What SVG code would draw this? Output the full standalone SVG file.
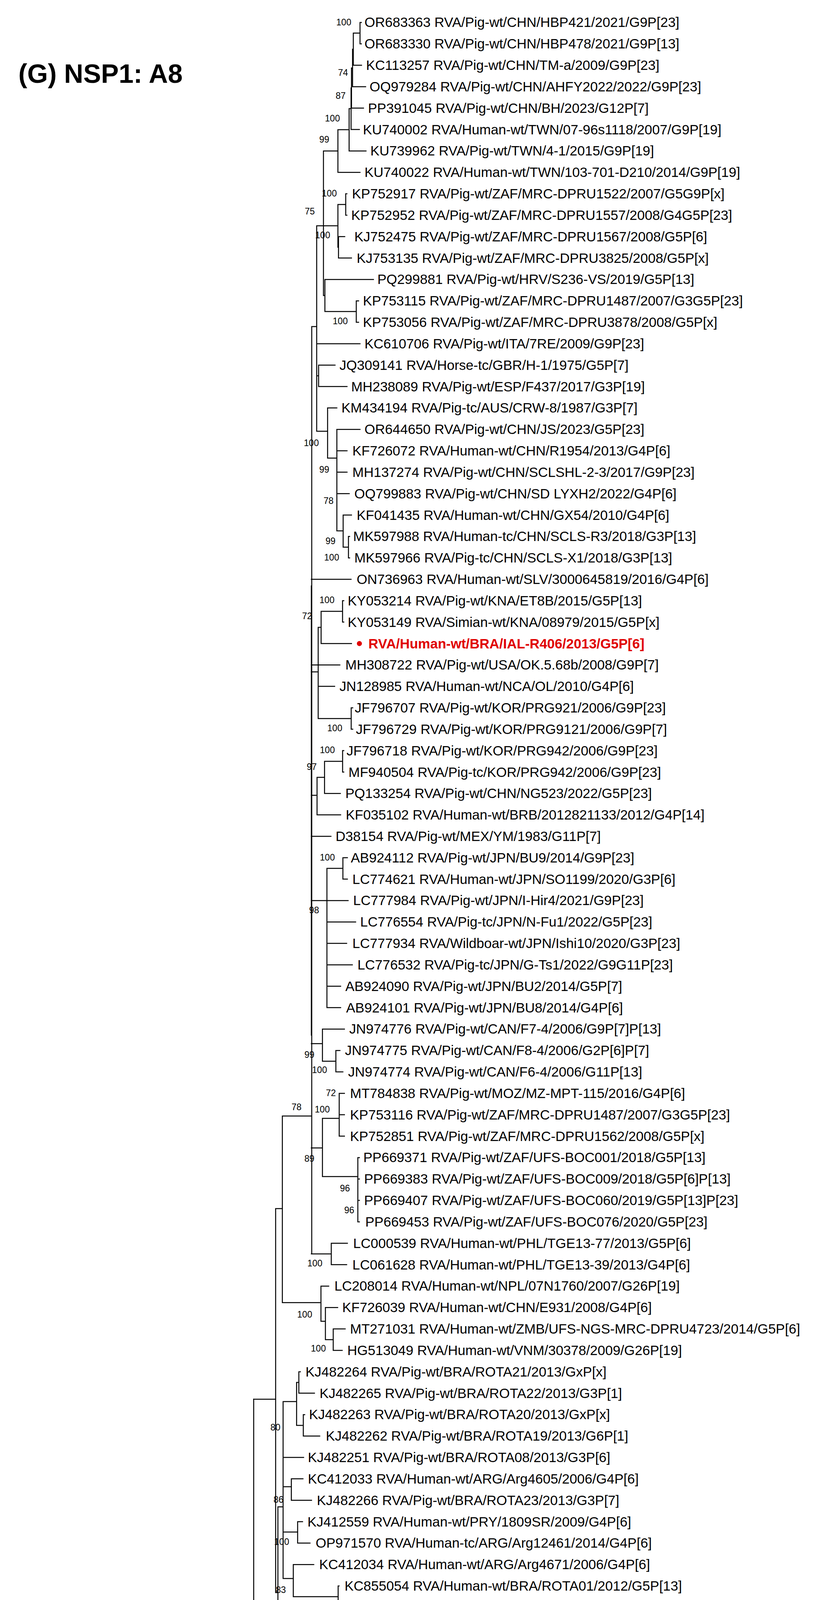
<svg xmlns="http://www.w3.org/2000/svg" width="2117" height="5613" viewBox="0 0 2117 5613">
<style>
.e{fill:none;stroke:#000;stroke-width:2.5;stroke-linecap:square}
.t{font-family:"Liberation Sans",Arial,sans-serif;font-size:35px;fill:#000}
.b{font-family:"Liberation Sans",Arial,sans-serif;font-size:23px;fill:#000;text-anchor:middle}
.r{font-family:"Liberation Sans",Arial,sans-serif;font-size:35px;font-weight:bold;fill:#e00000}
</style>
<rect width="2117" height="5613" fill="#fff"/>
<text x="47" y="212" font-family="Liberation Sans,Arial,sans-serif" font-size="68" font-weight="bold">(G) NSP1: A8</text>
<g id="connectors">
<path class="e" d="M921.6 57.4V112.2M921.6 57.4H925M921.6 112.2H925M904.4 84.8V167.1M904.4 84.8H921.6M904.4 167.1H925.5M902.5 126V221.9M902.5 126H904.4M902.5 221.9H936M899.8 174V276.7M899.8 174H902.5M899.8 276.7H930.5M898.7 225V331.6M898.7 225H899.8M898.7 331.6H920M893.7 278V386.4M893.7 278H898.7M893.7 386.4H937M865 332V441.2M865 332H893.7M865 441.2H921.6M828 386.6V756.5M828 386.6H865M885 496V550.9M885 496H888M885 550.9H888M865 523.4V633M865 523.4H885M865 633H866.5M866.5 605.7V660.5M866.5 605.7H882.5M866.5 660.5H899.8M810.7 578H865M831.7 715.4V797.6M828 756.5H831.7M831.7 715.4H956M831.7 797.6H912M912 770.2V825M912 770.2H918M912 825H918M810.7 578V1104M810.7 879.9H921.6M815.6 934.7V989.5M810.7 962H815.6M815.6 934.7H857.7M815.6 989.5H888.4M810.7 1104H838.6M838.6 1044.3V1172.7M838.6 1044.3H862.3M838.6 1172.7H862.3M862.3 1099.2V1359M862.3 1099.2H921.6M862.3 1154H888.4M862.3 1208.8H888.4M862.3 1263.7H894M862.3 1359H878.4M878.4 1318.5V1400.8M878.4 1318.5H899.8M878.4 1400.8H892M892 1373.3V1428.2M892 1373.3H895M892 1428.2H895"/>
<path class="e" d="M799 836H810.7M798 836V3210M797 1483H898.7M814.5 1606V1839.4M797 1720H814.5M814.5 1606H822M822 1565V1647.5M822 1565H876.9M822 1647.5H899.8M876.9 1537.8V1592.6M876.9 1537.8H880M876.9 1592.6H880M797 1702.3H870M814.5 1757.1H856.7M814.5 1839.4H899M899 1812V1866.8M899 1812H903M899 1866.8H903M797 2036H811.6M811.6 1990V2086.1M811.6 1990H830.8M811.6 2086.1H872M830.8 1949V2031.3M830.8 1949H877M830.8 2031.3H871.3M877 1921.6V1976.5M877 1921.6H880M877 1976.5H880M797 2140.9H847.2M797 2305.4H891.2M836.9 2223V2579.6M836.9 2223H877.8M877.8 2195.8V2250.6M877.8 2195.8H889.3M877.8 2250.6H889.3M836.9 2360.3H910.4M836.9 2415.1H887.4M836.9 2469.9H901.9M836.9 2524.8H872M836.9 2579.6H872M797 2671.8H825.4M825.4 2634.4V2716.7M825.4 2634.4H881.7M825.4 2716.7H859.8M859.8 2689.2V2744.1M859.8 2689.2H870.2M859.8 2744.1H877.8M797 2938.7H825.4M825.4 2863V3012M825.4 2863H868.3M868.3 2798.9V2908.6M868.3 2798.9H881.7M868.3 2853.7H881.7M868.3 2908.6H881.7M825.4 3012H916M916 2963.4V3127.9M916 2963.4H920M916 3018.2H920M916 3073.1H920M916 3127.9H920M797 3210H848M848 3182.7V3237.5M848 3182.7H889.3M848 3237.5H887.4"/>
<path class="e" stroke-width="5" d="M797 1500V2650"/>
<path class="e" d="M722.8 2857H797M722.8 2857V3334.8M722.8 3334.8H821.6M821.6 3292.4V3382.6M821.6 3292.4H841.5M821.6 3382.6H833M833 3347.2V3429.5M833 3347.2H864.4M833 3429.5H853M853 3402V3456.9M853 3402H883.6M853 3456.9H876M705.6 3094H722.8M705.6 3094V4077M649.4 3582H705.6M705.6 4077H711.4M711.4 3857.6V4296.7M711.4 3857.6H724.7M724.7 3588V4041M724.7 3588H759.2M759.2 3539V3649M759.2 3539H765M765 3511.7V3566.5M765 3511.7H768.8M765 3566.5H805M759.2 3649H776.4M776.4 3621.4V3676.2M776.4 3621.4H780M776.4 3676.2H818.5M724.7 3731H777.2M724.7 3806H745.8M745.8 3785.8V3840.7M745.8 3785.8H775.6M745.8 3840.7H797.5M724.7 3922H761.9M761.9 3895.5V3950.3M761.9 3895.5H774.5M761.9 3950.3H793.6M724.7 4041H750.8M750.8 4005.2V4087.4M750.8 4005.2H803.2M750.8 4087.4H865.6M865.6 4060V4114.8M865.6 4060H868M865.6 4114.8H868"/>
<path class="e" d="M711.4 4296.7H722M722 4169.7V4520M722 4169.7H814.7M722 4252H745.8M745.8 4224.5V4279.3M745.8 4224.5H757.3M745.8 4279.3H862.5M722 4334.1H774.5M722 4520H732.4M732.4 4416V4633.5M732.4 4416H780M780 4389V4443.8M780 4389H788M780 4443.8H795.5M732.4 4633.5H737.4M737.4 4526V4741M737.4 4526H745.8M745.8 4498.6V4553.5M745.8 4498.6H780M745.8 4553.5H836.9M737.4 4608.3H768M737.4 4741H743.9M743.9 4690.5V4800.2M743.9 4690.5H773.3M773.3 4663.1V4718M773.3 4663.1H786M773.3 4718H793.6M743.9 4800.2H757.3M757.3 4772.8V4827.6M757.3 4772.8H768.8M757.3 4827.6H791.7M649.4 3582V4910M649.4 4910H694M694 4882.4V4937.3M694 4882.4H777.2M694 4937.3H742M603.4 4245H649.4M603.4 4245V5094M603.4 5094H713M713 5019.5V5169M713 5019.5H745.2M745.2 4992.1V5046.9M745.2 4992.1H859M745.2 5046.9H873M713 5169H735.8M735.8 5101.8V5244M735.8 5101.8H846M735.8 5244H758.7M758.7 5184V5304M758.7 5184H793.8M793.8 5156.6V5211.4M793.8 5156.6H830M793.8 5211.4H877.5M758.7 5304H765.5M765.5 5266.3V5348.5M765.5 5266.3H816.8M765.5 5348.5H796.5M796.5 5321.1V5375.9M796.5 5321.1H823.6M796.5 5375.9H816.8M37.8 4667V5430.8M37.8 4667H603.4M37.8 5430.8H949"/>
</g>
<g id="leaves">
<g id="n0"><text class="t" x="933" y="69.4">OR683363 RVA/Pig-wt/CHN/HBP421/2021/G9P[23]</text></g>
<g id="n1"><text class="t" x="933" y="124.2">OR683330 RVA/Pig-wt/CHN/HBP478/2021/G9P[13]</text></g>
<g id="n2"><text class="t" x="937" y="179.1">KC113257 RVA/Pig-wt/CHN/TM-a/2009/G9P[23]</text></g>
<g id="n3"><text class="t" x="946" y="233.9">OQ979284 RVA/Pig-wt/CHN/AHFY2022/2022/G9P[23]</text></g>
<g id="n4"><text class="t" x="942" y="288.7">PP391045 RVA/Pig-wt/CHN/BH/2023/G12P[7]</text></g>
<g id="n5"><text class="t" x="929" y="343.6">KU740002 RVA/Human-wt/TWN/07-96s1118/2007/G9P[19]</text></g>
<g id="n6"><text class="t" x="948" y="398.4">KU739962 RVA/Pig-wt/TWN/4-1/2015/G9P[19]</text></g>
<g id="n7"><text class="t" x="933" y="453.2">KU740022 RVA/Human-wt/TWN/103-701-D210/2014/G9P[19]</text></g>
<g id="n8"><text class="t" x="901" y="508">KP752917 RVA/Pig-wt/ZAF/MRC-DPRU1522/2007/G5G9P[x]</text></g>
<g id="n9"><text class="t" x="899" y="562.9">KP752952 RVA/Pig-wt/ZAF/MRC-DPRU1557/2008/G4G5P[23]</text></g>
<g id="n10"><text class="t" x="907" y="617.7">KJ752475 RVA/Pig-wt/ZAF/MRC-DPRU1567/2008/G5P[6]</text></g>
<g id="n11"><text class="t" x="913" y="672.5">KJ753135 RVA/Pig-wt/ZAF/MRC-DPRU3825/2008/G5P[x]</text></g>
<g id="n12"><text class="t" x="966" y="727.4">PQ299881 RVA/Pig-wt/HRV/S236-VS/2019/G5P[13]</text></g>
<g id="n13"><text class="t" x="929" y="782.2">KP753115 RVA/Pig-wt/ZAF/MRC-DPRU1487/2007/G3G5P[23]</text></g>
<g id="n14"><text class="t" x="929" y="837">KP753056 RVA/Pig-wt/ZAF/MRC-DPRU3878/2008/G5P[x]</text></g>
<g id="n15"><text class="t" x="933" y="891.9">KC610706 RVA/Pig-wt/ITA/7RE/2009/G9P[23]</text></g>
<g id="n16"><text class="t" x="869" y="946.7">JQ309141 RVA/Horse-tc/GBR/H-1/1975/G5P[7]</text></g>
<g id="n17"><text class="t" x="899" y="1001.5">MH238089 RVA/Pig-wt/ESP/F437/2017/G3P[19]</text></g>
<g id="n18"><text class="t" x="874" y="1056.3">KM434194 RVA/Pig-tc/AUS/CRW-8/1987/G3P[7]</text></g>
<g id="n19"><text class="t" x="933" y="1111.2">OR644650 RVA/Pig-wt/CHN/JS/2023/G5P[23]</text></g>
<g id="n20"><text class="t" x="902" y="1166">KF726072 RVA/Human-wt/CHN/R1954/2013/G4P[6]</text></g>
<g id="n21"><text class="t" x="902" y="1220.8">MH137274 RVA/Pig-wt/CHN/SCLSHL-2-3/2017/G9P[23]</text></g>
<g id="n22"><text class="t" x="907" y="1275.7">OQ799883 RVA/Pig-wt/CHN/SD LYXH2/2022/G4P[6]</text></g>
<g id="n23"><text class="t" x="913" y="1330.5">KF041435 RVA/Human-wt/CHN/GX54/2010/G4P[6]</text></g>
<g id="n24"><text class="t" x="904" y="1385.3">MK597988 RVA/Human-tc/CHN/SCLS-R3/2018/G3P[13]</text></g>
<g id="n25"><text class="t" x="907" y="1440.2">MK597966 RVA/Pig-tc/CHN/SCLS-X1/2018/G3P[13]</text></g>
<g id="n26"><text class="t" x="913" y="1495">ON736963 RVA/Human-wt/SLV/3000645819/2016/G4P[6]</text></g>
<g id="n27"><text class="t" x="890" y="1549.8">KY053214 RVA/Pig-wt/KNA/ET8B/2015/G5P[13]</text></g>
<g id="n28"><text class="t" x="890" y="1604.6">KY053149 RVA/Simian-wt/KNA/08979/2015/G5P[x]</text></g>
<g id="n29"><circle cx="920" cy="1647.5" r="6.5" fill="#e00000"/><text class="r" x="943" y="1659.5">RVA/Human-wt/BRA/IAL-R406/2013/G5P[6]</text></g>
<g id="n30"><text class="t" x="884" y="1714.3">MH308722 RVA/Pig-wt/USA/OK.5.68b/2008/G9P[7]</text></g>
<g id="n31"><text class="t" x="869" y="1769.1">JN128985 RVA/Human-wt/NCA/OL/2010/G4P[6]</text></g>
<g id="n32"><text class="t" x="908" y="1824">JF796707 RVA/Pig-wt/KOR/PRG921/2006/G9P[23]</text></g>
<g id="n33"><text class="t" x="911" y="1878.8">JF796729 RVA/Pig-wt/KOR/PRG9121/2006/G9P[7]</text></g>
<g id="n34"><text class="t" x="887" y="1933.6">JF796718 RVA/Pig-wt/KOR/PRG942/2006/G9P[23]</text></g>
<g id="n35"><text class="t" x="892" y="1988.5">MF940504 RVA/Pig-tc/KOR/PRG942/2006/G9P[23]</text></g>
<g id="n36"><text class="t" x="884" y="2043.3">PQ133254 RVA/Pig-wt/CHN/NG523/2022/G5P[23]</text></g>
<g id="n37"><text class="t" x="885" y="2098.1">KF035102 RVA/Human-wt/BRB/2012821133/2012/G4P[14]</text></g>
<g id="n38"><text class="t" x="859" y="2152.9">D38154 RVA/Pig-wt/MEX/YM/1983/G11P[7]</text></g>
<g id="n39"><text class="t" x="898" y="2207.8">AB924112 RVA/Pig-wt/JPN/BU9/2014/G9P[23]</text></g>
<g id="n40"><text class="t" x="902" y="2262.6">LC774621 RVA/Human-wt/JPN/SO1199/2020/G3P[6]</text></g>
<g id="n41"><text class="t" x="904" y="2317.4">LC777984 RVA/Pig-wt/JPN/I-Hir4/2021/G9P[23]</text></g>
<g id="n42"><text class="t" x="922" y="2372.3">LC776554 RVA/Pig-tc/JPN/N-Fu1/2022/G5P[23]</text></g>
<g id="n43"><text class="t" x="902" y="2427.1">LC777934 RVA/Wildboar-wt/JPN/Ishi10/2020/G3P[23]</text></g>
<g id="n44"><text class="t" x="915" y="2481.9">LC776532 RVA/Pig-tc/JPN/G-Ts1/2022/G9G11P[23]</text></g>
<g id="n45"><text class="t" x="884" y="2536.8">AB924090 RVA/Pig-wt/JPN/BU2/2014/G5P[7]</text></g>
<g id="n46"><text class="t" x="886" y="2591.6">AB924101 RVA/Pig-wt/JPN/BU8/2014/G4P[6]</text></g>
<g id="n47"><text class="t" x="894" y="2646.4">JN974776 RVA/Pig-wt/CAN/F7-4/2006/G9P[7]P[13]</text></g>
<g id="n48"><text class="t" x="883" y="2701.2">JN974775 RVA/Pig-wt/CAN/F8-4/2006/G2P[6]P[7]</text></g>
<g id="n49"><text class="t" x="891" y="2756.1">JN974774 RVA/Pig-wt/CAN/F6-4/2006/G11P[13]</text></g>
<g id="n50"><text class="t" x="896" y="2810.9">MT784838 RVA/Pig-wt/MOZ/MZ-MPT-115/2016/G4P[6]</text></g>
<g id="n51"><text class="t" x="896" y="2865.7">KP753116 RVA/Pig-wt/ZAF/MRC-DPRU1487/2007/G3G5P[23]</text></g>
<g id="n52"><text class="t" x="896" y="2920.6">KP752851 RVA/Pig-wt/ZAF/MRC-DPRU1562/2008/G5P[x]</text></g>
<g id="n53"><text class="t" x="930" y="2975.4">PP669371 RVA/Pig-wt/ZAF/UFS-BOC001/2018/G5P[13]</text></g>
<g id="n54"><text class="t" x="932" y="3030.2">PP669383 RVA/Pig-wt/ZAF/UFS-BOC009/2018/G5P[6]P[13]</text></g>
<g id="n55"><text class="t" x="932" y="3085.1">PP669407 RVA/Pig-wt/ZAF/UFS-BOC060/2019/G5P[13]P[23]</text></g>
<g id="n56"><text class="t" x="935" y="3139.9">PP669453 RVA/Pig-wt/ZAF/UFS-BOC076/2020/G5P[23]</text></g>
<g id="n57"><text class="t" x="904" y="3194.7">LC000539 RVA/Human-wt/PHL/TGE13-77/2013/G5P[6]</text></g>
<g id="n58"><text class="t" x="902" y="3249.5">LC061628 RVA/Human-wt/PHL/TGE13-39/2013/G4P[6]</text></g>
<g id="n59"><text class="t" x="856" y="3304.4">LC208014 RVA/Human-wt/NPL/07N1760/2007/G26P[19]</text></g>
<g id="n60"><text class="t" x="876" y="3359.2">KF726039 RVA/Human-wt/CHN/E931/2008/G4P[6]</text></g>
<g id="n61"><text class="t" x="896" y="3414">MT271031 RVA/Human-wt/ZMB/UFS-NGS-MRC-DPRU4723/2014/G5P[6]</text></g>
<g id="n62"><text class="t" x="889" y="3468.9">HG513049 RVA/Human-wt/VNM/30378/2009/G26P[19]</text></g>
<g id="n63"><text class="t" x="782" y="3523.7">KJ482264 RVA/Pig-wt/BRA/ROTA21/2013/GxP[x]</text></g>
<g id="n64"><text class="t" x="818" y="3578.5">KJ482265 RVA/Pig-wt/BRA/ROTA22/2013/G3P[1]</text></g>
<g id="n65"><text class="t" x="791" y="3633.4">KJ482263 RVA/Pig-wt/BRA/ROTA20/2013/GxP[x]</text></g>
<g id="n66"><text class="t" x="834" y="3688.2">KJ482262 RVA/Pig-wt/BRA/ROTA19/2013/G6P[1]</text></g>
<g id="n67"><text class="t" x="788" y="3743">KJ482251 RVA/Pig-wt/BRA/ROTA08/2013/G3P[6]</text></g>
<g id="n68"><text class="t" x="788" y="3797.8">KC412033 RVA/Human-wt/ARG/Arg4605/2006/G4P[6]</text></g>
<g id="n69"><text class="t" x="811" y="3852.7">KJ482266 RVA/Pig-wt/BRA/ROTA23/2013/G3P[7]</text></g>
<g id="n70"><text class="t" x="787" y="3907.5">KJ412559 RVA/Human-wt/PRY/1809SR/2009/G4P[6]</text></g>
<g id="n71"><text class="t" x="808" y="3962.3">OP971570 RVA/Human-tc/ARG/Arg12461/2014/G4P[6]</text></g>
<g id="n72"><text class="t" x="817" y="4017.2">KC412034 RVA/Human-wt/ARG/Arg4671/2006/G4P[6]</text></g>
<g id="n73"><text class="t" x="882" y="4072">KC855054 RVA/Human-wt/BRA/ROTA01/2012/G5P[13]</text></g>
<g id="n74"><text class="t" x="879" y="4126.8">KJ482250 RVA/Pig-wt/BRA/ROTA07/2013/G5P[13]</text></g>
<g id="n75"><text class="t" x="824" y="4181.7">AB741655 RVA/Human-wt/JPN/Ryukyu-1120/2011/G5P[6]</text></g>
<g id="n76"><text class="t" x="768" y="4236.5">KR052741 RVA/Pig-tc/USA/LS00007 Gottfried/1975/G4P[6]</text></g>
<g id="n77"><text class="t" x="874" y="4291.3">HM348716 RVA/Human-tc/IND/mani-97/2006/G9P[19]</text></g>
<g id="n78"><text class="t" x="788" y="4346.1">PP235802 RVA/Pig-tc/CHN/GDZHF/2023/G9P[7]</text></g>
<g id="n79"><text class="t" x="802" y="4401">KM820739 RVA/Pig-wt/BEL/12R006/2012/G3P[6]</text></g>
<g id="n80"><text class="t" x="809" y="4455.8">JQ993324 RVA/Human-wt/BEL/BE2001/2009/G9P[6]</text></g>
<g id="n81"><text class="t" x="794" y="4510.6">PQ299829 RVA/Pig-wt/HRV/S55-VS/2018/G5P[13]</text></g>
<g id="n82"><text class="t" x="851" y="4565.5">KM820738 RVA/Pig-wt/BEL/12R005/2012/G4P[7]</text></g>
<g id="n83"><text class="t" x="780" y="4620.3">PQ299991 RVA/Wildboar-wt/HRV/DS306-OB/2020/G3P[13]</text></g>
<g id="n84"><text class="t" x="802" y="4675.1">PQ299947 RVA/Jackal-wt/HRV/C48-VS/2020/G3P[6]</text></g>
<g id="n85"><text class="t" x="805" y="4730">PQ299903 RVA/Pig-wt/HRV/S280-SD/2019/G5P[23]</text></g>
<g id="n86"><text class="t" x="782" y="4784.8">KF835938 RVA/Human-wt/HUN/BP1125/2004/G4P[6]</text></g>
<g id="n87"><text class="t" x="802" y="4839.6">KF835937 RVA/Human-wt/HUN/BP271/2000/G4P[6]</text></g>
<g id="n88"><text class="t" x="788" y="4894.4">KJ482257 RVA/Pig-wt/BRA/ROTA14/2013/G9P[23]</text></g>
<g id="n89"><text class="t" x="753" y="4949.3">KJ482253 RVA/Pig-wt/BRA/ROTA10/2013/G9P[23]</text></g>
<g id="n90"><text class="t" x="871" y="5004.1">KP753184 RVA/Pig-wt/ZAF/MRC-DPRU1568/2008/G5P[x]</text></g>
<g id="n91"><text class="t" x="884" y="5058.9">KC149934 RVA/Human-wt/CHN/LL36755/2003/G5P[6]</text></g>
<g id="n92"><text class="t" x="862" y="5113.8">JQ898158 RVA/Human-wt/BRA/HSP180/1999/G4P[6]</text></g>
<g id="n93"><text class="t" x="844" y="5168.6">KJ482261 RVA/Pig-wt/BRA/ROTA18/2013/G5P[7]</text></g>
<g id="n94"><text class="t" x="894" y="5223.4">KJ482267 RVA/Pig-wt/BRA/ROTA24/2013/G5P[6]</text></g>
<g id="n95"><text class="t" x="848" y="5278.3">KJ482260 RVA/Pig-wt/BRA/ROTA17/2013/G5P[6]</text></g>
<g id="n96"><text class="t" x="844" y="5333.1">MG407651 RVA/Human-wt/BRA/rj24598/2015/G26P[19]</text></g>
<g id="n97"><text class="t" x="834" y="5387.9">KJ482252 RVA/Pig-wt/BRA/ROTA09/2013/G3P[13]</text></g>
<g id="n98"><text class="t" x="961" y="5442.8">ON737569 RVA/Human-wt/USA/3001502278/2018/G2P[4] outgroup</text></g>
</g>
<g id="bootstrap">
<text class="b" x="880" y="65">100</text><text class="b" x="878" y="194">74</text><text class="b" x="872" y="253">87</text><text class="b" x="851" y="311">100</text><text class="b" x="830" y="365">99</text><text class="b" x="843" y="503">100</text><text class="b" x="793" y="549">75</text><text class="b" x="826" y="610">100</text><text class="b" x="871" y="830">100</text>
<text class="b" x="797" y="1142">100</text><text class="b" x="830" y="1210">99</text><text class="b" x="841" y="1290">78</text><text class="b" x="846" y="1393">99</text><text class="b" x="849" y="1435">100</text><text class="b" x="837" y="1544">100</text><text class="b" x="786" y="1585">72</text>
<text class="b" x="857" y="1872">100</text><text class="b" x="838" y="1928">100</text><text class="b" x="798" y="1971">97</text><text class="b" x="838" y="2203">100</text><text class="b" x="804" y="2338">98</text>
<text class="b" x="792" y="2708">99</text><text class="b" x="818" y="2747">100</text><text class="b" x="847" y="2806">72</text><text class="b" x="825" y="2848">100</text><text class="b" x="759" y="2842">78</text><text class="b" x="792" y="2974">89</text><text class="b" x="883" y="3050">96</text><text class="b" x="894" y="3106">96</text><text class="b" x="806" y="3242">100</text><text class="b" x="780" y="3373">100</text><text class="b" x="815" y="3460">100</text>
<text class="b" x="705" y="3662">80</text><text class="b" x="713" y="3847">86</text><text class="b" x="721" y="3955">100</text><text class="b" x="719" y="4078">83</text><text class="b" x="826" y="4121">100</text>
<text class="b" x="736" y="4396">100</text><text class="b" x="732" y="4671">100</text><text class="b" x="712" y="4781">89</text><text class="b" x="725" y="4834">99</text><text class="b" x="712" y="5002">80</text><text class="b" x="682" y="5131">98</text><text class="b" x="760" y="5167">96</text><text class="b" x="702" y="5209">96</text><text class="b" x="726" y="5282">75</text><text class="b" x="740" y="5343">91</text><text class="b" x="753" y="5383">100</text>
</g>
<g id="scale">
<path class="e" d="M84 5516H205M84 5507V5525M205 5507V5525"/>
<text class="b" x="144" y="5588">0.10</text>
</g>
</svg>
